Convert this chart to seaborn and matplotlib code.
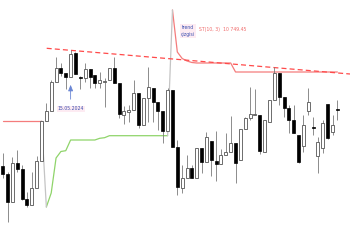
import numpy as np
import pandas as pd
import matplotlib
matplotlib.use("Agg")
import matplotlib.pyplot as plt
import seaborn as sns

# ---- data (arbitrary price units) ----
opens  = [84, 76, 48, 87, 81, 51, 45, 62, 89, 129, 139, 168, 182, 177, 173, 197, 173, 172, 181, 175,
          167, 168.5, 170, 182, 167, 135, 138, 140, 157, 125, 152, 162, 148, 139, 119, 160, 103, 62, 72, 82,
          72, 102, 88, 109, 89, 86, 95, 98, 107, 90, 121, 132, 135, 135, 98, 128, 150, 177, 153, 142,
          130, 115, 104, 139, 123.5, 94, 102, 146, 118, 141.5]
highs  = [97, 78, 93, 100, 85, 58, 78, 94, 129, 147, 170, 193, 187, 177, 200, 198, 174, 187, 181, 175,
          178, 172, 182, 193, 167, 144, 145, 170, 157, 152, 183, 162, 148, 139, 162, 160, 110, 85, 95, 85,
          102, 102, 118, 109, 119, 101, 117, 134, 107, 121, 133, 163, 161, 135, 130, 150, 183, 177, 153, 145,
          145, 115, 135, 162, 133, 113, 130, 146, 135, 150]
lows   = [72, 28, 48, 78, 50, 43, 45, 62, 89, 129, 139, 168, 174, 161, 173, 176, 161, 168, 162, 162,
          162, 143, 170, 167, 132, 126, 128, 140, 122, 125, 128, 128, 120, 107, 119, 103, 55, 57, 72, 72,
          72, 77, 88, 74, 69, 86, 95, 98, 67, 90, 121, 130, 135, 96, 98, 128, 150, 145, 133, 117,
          117, 87, 98, 135, 115, 77, 97, 111, 115, 130]
closes = [76, 48, 87, 81, 51, 45, 62, 89, 129, 139, 168, 182, 177, 173, 196, 176, 172, 181, 173, 167,
          170, 169.5, 182, 167, 136, 139, 140, 157, 125, 152, 163, 148, 139, 119, 160, 103, 63, 72, 82, 72,
          102, 88, 113, 90, 86, 95, 98, 107, 87, 121, 132, 136, 136, 99, 130, 150, 177, 153, 142, 130,
          117, 88, 125, 148, 122.5, 108, 127, 112, 125, 140.5]
st_values = [129]*9 + [43, 57, 92, 98.5, 99.3] + [110]*6 + [111.7, 112.3] + [114.3]*13 + \
            [240, 198, 191.5, 189, 187.5] + [187]*8 + [178]*22
st_dir = [-1]*9 + [1]*26 + [-1]*35
trend_x = [9.07, 71.6]
trend_y = [201.7, 176.0]
marker_idx = 14
marker_label = "15.05.2024"
st_label = "ST(10, 3)  10 749.45"
trend_label = "trend\nçizgisi"

n = len(opens)
idx = np.arange(n)
df = pd.DataFrame({"i": idx, "o": opens, "h": highs, "l": lows, "c": closes,
                   "st": st_values, "dir": st_dir})

sns.set_theme(style="white")
plt.rcParams['font.family'] = ['DejaVu Sans']

fig = plt.figure(figsize=(3.5, 2.5), dpi=100)
ax = fig.add_axes([0, 0, 1, 1])
ax.set_axis_off()

# supertrend segments
seg = (df["dir"] != df["dir"].shift()).cumsum()
for s, part in df.groupby(seg):
    color = "#f47c7c" if part["dir"].iloc[0] < 0 else "#8fd46a"
    sns.lineplot(data=part, x="i", y="st", ax=ax, color=color, lw=0.9,
                 estimator=None, legend=False)
# transitions
for k in range(1, n):
    if st_dir[k] != st_dir[k-1]:
        ax.plot([k-1, k], [st_values[k-1], st_values[k]], color="#c4c4c4", lw=0.9)

# dashed trend line
sns.lineplot(x=trend_x, y=trend_y, ax=ax, color="#ff4a4a", lw=0.9, linestyle=(0, (4, 2.5)))

# candles
up = df["c"] >= df["o"]
ax.vlines(df["i"], df["l"], df["h"], color="#7a7a7a", lw=0.6, zorder=3)
ax.bar(df["i"][up], (df["c"] - df["o"])[up].clip(lower=0.6), bottom=df["o"][up], width=0.62,
       color="white", edgecolor="#555555", linewidth=0.6, zorder=4)
ax.bar(df["i"][~up], (df["o"] - df["c"])[~up].clip(lower=0.6), bottom=df["c"][~up], width=0.62,
       color="black", edgecolor="black", linewidth=0.5, zorder=4)

# annotations
ax.annotate("", xy=(marker_idx, 168), xytext=(marker_idx, 148),
            arrowprops=dict(arrowstyle="-|>,head_width=0.12,head_length=0.3", color="#6a86d4", lw=0.6))
ax.text(marker_idx + 0.1, 141, marker_label, fontsize=3.3, color="#3a4fb0", ha="center", va="center",
        bbox=dict(boxstyle="square,pad=0.2", fc="#fdebf2", ec="none"))
ax.text(38.2, 219, trend_label, fontsize=3.3, color="#3a4fb0", ha="center", va="center",
        linespacing=1.3, bbox=dict(boxstyle="square,pad=0.2", fc="#fdebf2", ec="none"))
ax.text(40.5, 220.5, st_label, fontsize=3.3, color="#f06a6a", ha="left", va="center")

ax.set_xlim(-0.557, 71.6)
ax.set_ylim(0, 250)
fig.savefig("out.png", dpi=100)
